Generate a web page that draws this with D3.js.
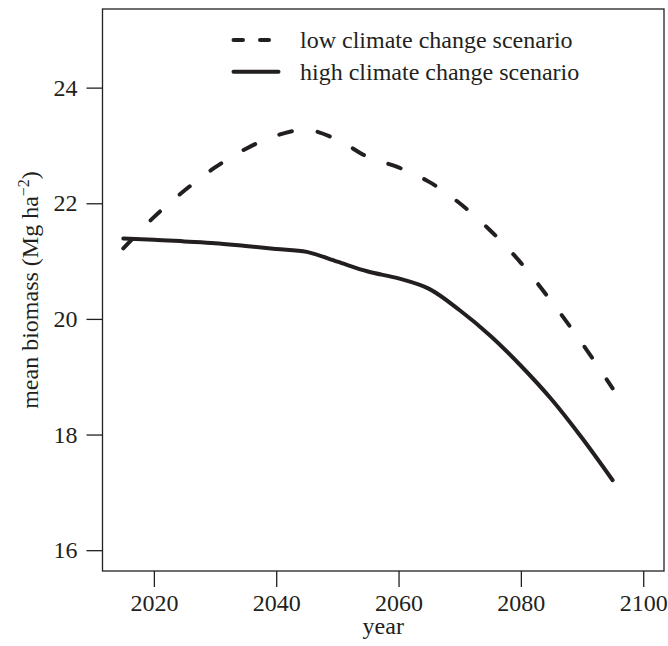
<!DOCTYPE html>
<html>
<head>
<meta charset="utf-8">
<script src="https://d3js.org/d3.v7.min.js"></script>
<style>
  body { margin: 0; background: white; }
  text { font-family: "Liberation Serif", "DejaVu Serif", serif; fill: #231f20; }
</style>
</head>
<body>
<svg id="plot"></svg>
<script>
// values, every 5 years
var years = [2015, 2020, 2025, 2030, 2035, 2040, 2045, 2050, 2055, 2060, 2065, 2070, 2075, 2080, 2085, 2090, 2095]
var lowScenario = [21.22, 21.76, 22.22, 22.62, 22.94, 23.17, 23.27, 23.10, 22.80, 22.62, 22.37, 22.00, 21.53, 20.97, 20.30, 19.58, 18.80]
var highScenario = [21.39, 21.37, 21.34, 21.31, 21.26, 21.21, 21.16, 20.99, 20.82, 20.70, 20.52, 20.15, 19.71, 19.19, 18.61, 17.94, 17.21]
var xTicks = [2020, 2040, 2060, 2080, 2100]
var yTicks = [16, 18, 20, 22, 24]
var legendLabels = ["low climate change scenario", "high climate change scenario"]

var width = 668, height = 646
var margins = { left: 102.5, right: 4, top: 9, bottom: 75 }

var svg = d3.select("#plot").attr("width", width).attr("height", height)

// R-style 4% padding on xlim 2015-2100 and ylim 16-25
var xScale = d3.scaleLinear().domain([2011.6, 2103.4]).range([margins.left, width - margins.right])
var yScale = d3.scaleLinear().domain([15.64, 25.36]).range([height - margins.bottom, margins.top])

var ink = "#231f20"

// x axis
var xAxis = d3.axisBottom(xScale).tickValues(xTicks).tickSize(16).tickPadding(7).tickFormat(d3.format("d"))
var gx = svg.append("g").attr("transform", "translate(0," + (height - margins.bottom) + ")").call(xAxis)
gx.select(".domain").remove()
gx.selectAll("line").attr("stroke", ink).attr("stroke-width", 1.3)
gx.selectAll("text").attr("font-size", 24).attr("font-family", "Liberation Serif").attr("fill", ink)

// y axis
var yAxis = d3.axisLeft(yScale).tickValues(yTicks).tickSize(16).tickPadding(9)
var gy = svg.append("g").attr("transform", "translate(" + margins.left + ",0)").call(yAxis)
gy.select(".domain").remove()
gy.selectAll("line").attr("stroke", ink).attr("stroke-width", 1.3)
gy.selectAll("text").attr("font-size", 24).attr("font-family", "Liberation Serif").attr("fill", ink)

// box
svg.append("rect")
  .attr("x", margins.left).attr("y", margins.top)
  .attr("width", width - margins.right - margins.left)
  .attr("height", height - margins.bottom - margins.top)
  .attr("fill", "none").attr("stroke", ink).attr("stroke-width", 1.3)

// lines
var line = d3.line().curve(d3.curveCatmullRom)
  .x(function (d, i) { return xScale(years[i]) })
  .y(function (d) { return yScale(d) })

svg.append("path").datum(lowScenario)
  .attr("d", line).attr("fill", "none").attr("stroke", ink)
  .attr("stroke-width", 4).attr("stroke-linecap", "round")
  .attr("stroke-dasharray", "13,26")

svg.append("path").datum(highScenario)
  .attr("d", line).attr("fill", "none").attr("stroke", ink)
  .attr("stroke-width", 4).attr("stroke-linecap", "round")

// legend
var legend = svg.append("g")
legend.append("line").attr("x1", 233.5).attr("x2", 269).attr("y1", 40).attr("y2", 40)
  .attr("stroke", ink).attr("stroke-width", 4).attr("stroke-linecap", "round")
  .attr("stroke-dasharray", "9.5,17")
legend.append("line").attr("x1", 233.5).attr("x2", 278.5).attr("y1", 71.7).attr("y2", 71.7)
  .attr("stroke", ink).attr("stroke-width", 4).attr("stroke-linecap", "round")
legend.selectAll("text.lab").data(legendLabels).enter().append("text")
  .attr("class", "lab")
  .attr("x", 300)
  .attr("y", function (d, i) { return 48 + i * 31.7 })
  .attr("font-size", 24)
  .text(function (d) { return d })

// axis titles
svg.append("text")
  .attr("x", (margins.left + width - margins.right) / 2).attr("y", 634)
  .attr("text-anchor", "middle").attr("font-size", 24)
  .text("year")

var ylab = svg.append("text")
  .attr("transform", "translate(38," + ((margins.top + height - margins.bottom) / 2) + ")rotate(-90)")
  .attr("text-anchor", "middle").attr("font-size", 24)
ylab.append("tspan").text("mean biomass (Mg ha")
ylab.append("tspan").attr("font-size", 16).attr("dy", -9).text("\u22122")
ylab.append("tspan").attr("dy", 9).text(")")
</script>
</body>
</html>
